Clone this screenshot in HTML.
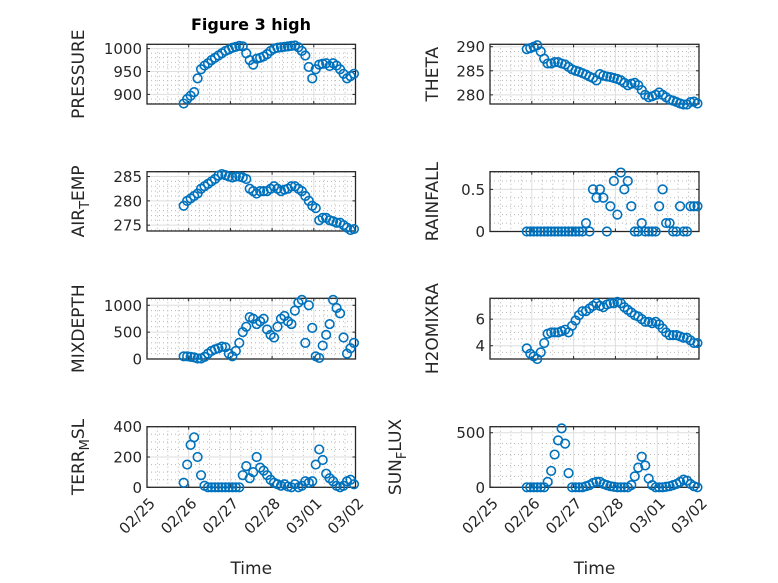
<!DOCTYPE html>
<html><head><meta charset="utf-8"><style>
html,body{margin:0;padding:0;background:#fff;}
svg{display:block;font-family:"DejaVu Sans","Liberation Sans",sans-serif;}
</style></head><body>
<svg id="fig" width="778" height="583" viewBox="0 0 778 583" xmlns="http://www.w3.org/2000/svg">
<rect width="778" height="583" fill="#fff"/>
<text x="251" y="30" text-anchor="middle" font-weight="bold" font-size="16" fill="#000">Figure 3 high</text>
</svg>
<script>
const hours = [0,2,4,6,8,10,12,14,16,18,20,22,24,26,28,30,32,34,36,38,40,42,44,46,48,50,52,54,56,58,60,62,64,66,68,70,72,74,76,78,80,82,84,86,88,90,92,94,96,98];
const startDay = 0.88;
const xTickLabels = ["02/25","02/26","02/27","02/28","03/01","03/02"];
const pressure = [880,890,897,905,935,955,963,968,975,980,985,990,995,998,1002,1004,1006,1005,990,975,965,978,980,983,988,995,1000,1002,1003,1004,1005,1006,1007,1003,995,985,960,935,955,965,967,968,962,968,963,955,945,935,940,945];
const theta = [289.5,289.7,290,290.3,289,287.5,286.5,286.5,286.8,286.8,286.5,286.3,285.8,285.3,285,284.8,284.5,284.2,283.8,283.5,283,284.3,284,283.8,283.7,283.5,283.3,283,282.5,282,282.3,282.5,282,281,280,279.5,279.7,280,280.5,280,279.5,279,278.8,278.5,278.2,278,278,278.5,278.6,278.2];
const airTemp = [279,280,280.5,281,281.5,282.5,283,283.5,284,284.5,285.2,285.5,285.3,285,284.8,285,285,284.8,284.5,282.5,282,281.5,282,282,282,282.5,283,282.5,282,282.3,282.5,283,283,282.5,282,281,280,279,278.5,276,276.5,276.5,276,275.8,275.5,275.5,275,274.5,274,274.2];
const rainfall = [0,0,0,0,0,0,0,0,0,0,0,0,0,0,0,0,0,0.1,0,0.5,0.4,0.5,0.4,0,0.3,0.6,0.2,0.7,0.5,0.6,0.3,0,0,0.1,0,0,0,0,0.3,0.5,0.1,0.1,0,0,0.3,0,0,0.3,0.3,0.3];
const mixDepth = [50,50,40,30,10,10,40,100,150,180,200,230,220,100,50,150,300,500,600,780,750,650,700,750,550,450,400,600,750,800,700,650,900,1050,1100,300,1000,580,50,20,250,450,650,1100,950,850,400,100,200,300];
const h2oMix = [3.8,3.4,3.2,3.0,3.5,4.2,4.9,5.0,5.0,5.0,5.1,5.2,5.0,5.5,5.9,6.3,6.6,6.6,6.8,7.0,7.2,7.0,6.9,7.1,7.2,7.2,7.3,7.2,6.9,6.7,6.5,6.3,6.2,6.0,5.8,5.8,5.7,5.8,5.6,5.3,5.0,4.8,4.8,4.8,4.7,4.6,4.6,4.4,4.2,4.2];
const terrMsl = [30,150,280,330,200,80,10,0,0,0,0,0,0,0,0,0,0,80,140,60,100,200,130,110,80,50,30,20,10,20,5,0,20,0,10,40,30,40,150,250,180,90,60,40,10,0,10,40,50,20];
const sunFlux = [0,0,0,0,0,0,50,150,300,430,540,400,130,0,0,0,0,10,20,40,50,50,30,20,10,5,0,0,0,0,20,100,180,280,200,80,20,0,0,0,5,10,20,30,50,70,60,30,10,0];
const pressureTicks = [900,950,1000], thetaTicks = [280,285,290], airTicks = [275,280,285], rainTicks = [0,0.5], mixTicks = [0,500,1000], h2oTicks = [4,6], terrTicks = [0,200,400], sunTicks = [0,500];

const NS = "http://www.w3.org/2000/svg";
const svg = document.getElementById('fig');
function mk(tag, attrs, parent){ const e=document.createElementNS(NS,tag); for(const k in attrs) e.setAttribute(k,attrs[k]); (parent||svg).appendChild(e); return e; }

const panels = [
 {name:'pressure', x0:147,x1:355.5,y0:44.3,y1:104, ymin:879,ymax:1009.5, ticks:pressureTicks, minor:10, data:pressure, label:['PRESSURE'], lx:84, xt:false},
 {name:'theta', x0:490,x1:699,y0:44.3,y1:104, ymin:278.1,ymax:290.5, ticks:thetaTicks, minor:1, data:theta, label:['THETA'], lx:438, xt:false},
 {name:'air-temp', x0:147,x1:355.5,y0:171.7,y1:231, ymin:273.8,ymax:286, ticks:airTicks, minor:1, data:airTemp, label:['AIR','T','EMP'], lx:84, xt:false},
 {name:'rainfall', x0:490,x1:699,y0:171.7,y1:231.5, ymin:0,ymax:0.71, ticks:rainTicks, minor:0.1, data:rainfall, label:['RAINFALL'], lx:438, xt:false},
 {name:'mixdepth', x0:147,x1:355.5,y0:298.3,y1:359, ymin:0,ymax:1130, ticks:mixTicks, minor:100, data:mixDepth, label:['MIXDEPTH'], lx:84, xt:false},
 {name:'h2omixra', x0:490,x1:699,y0:298.3,y1:359, ymin:3.0,ymax:7.57, ticks:h2oTicks, minor:0.5, data:h2oMix, label:['H2OMIXRA'], lx:438, xt:false},
 {name:'terr-msl', x0:147,x1:355.5,y0:426.7,y1:487.3, ymin:0,ymax:400, ticks:terrTicks, minor:50, data:terrMsl, label:['TERR','M','SL'], lx:84, xt:true},
 {name:'sun-flux', x0:490,x1:699,y0:426.7,y1:487.3, ymin:0,ymax:555, ticks:sunTicks, minor:100, data:sunFlux, label:['SUN','F','LUX'], lx:401, xt:true},
];

panels.forEach(p=>{
  const g = mk('g',{});
  
  
  const xs = d => p.x0 + d*(p.x1-p.x0)/5;
  const ys = v => p.y1 - (v-p.ymin)*(p.y1-p.y0)/(p.ymax-p.ymin);
  for(let q=1;q<20;q++){ if(q%4===0) continue; const x=xs(q/4);
    const l=mk('line',{x1:x,x2:x,y1:p.y0,y2:p.y1,stroke:'#b8b8b8','stroke-width':1,'stroke-dasharray':'1 3'},g);
      }
  const mstart = Math.ceil(p.ymin/p.minor);
  for(let k=mstart; k*p.minor<=p.ymax+1e-9; k++){ const v=k*p.minor; if(p.ticks.some(t=>Math.abs(t-v)<1e-9)) continue; const y=ys(v);
    const l=mk('line',{x1:p.x0,x2:p.x1,y1:y,y2:y,stroke:'#b8b8b8','stroke-width':1,'stroke-dasharray':'1 3'},g);
      }
  for(let d=1; d<5; d++){ const x=xs(d);
    const l=mk('line',{x1:x,x2:x,y1:p.y0,y2:p.y1,stroke:'#dedede','stroke-width':1},g);
      }
  p.ticks.forEach(t=>{ const y=ys(t);
    const l=mk('line',{x1:p.x0,x2:p.x1,y1:y,y2:y,stroke:'#dedede','stroke-width':1},g);
     
    const tk=mk('line',{x1:p.x0,x2:p.x0+3,y1:y,y2:y,stroke:'#262626','stroke-width':1},g);
     
    const tk2=mk('line',{x1:p.x1,x2:p.x1-3,y1:y,y2:y,stroke:'#262626','stroke-width':1},g);
     
    const tx=mk('text',{x:p.x0-5,y:y+5.5,'text-anchor':'end','font-size':15,fill:'#262626'},g);
     
    tx.textContent=String(t);
  });
  for(let d=0; d<=5; d++){ const x=xs(d);
    const tk=mk('line',{x1:x,x2:x,y1:p.y1,y2:p.y1-3,stroke:'#262626','stroke-width':1},g);
     
    const tk2=mk('line',{x1:x,x2:x,y1:p.y0,y2:p.y0+3,stroke:'#262626','stroke-width':1},g);
     
    if(p.xt){ const ax=x+9, ay=p.y1+17;
      const tx=mk('text',{x:ax,y:ay,'text-anchor':'end','font-size':15,fill:'#262626',transform:`rotate(-45 ${ax} ${ay})`},g);
       
      tx.textContent=xTickLabels[d]; }
  }
  const box=mk('rect',{x:p.x0,y:p.y0,width:p.x1-p.x0,height:p.y1-p.y0,fill:'none',stroke:'#262626','stroke-width':1.3},g);
   
  p.data.forEach((v,i)=>{ const d = startDay + hours[i]/24;
    const c=mk('circle',{cx:xs(d),cy:ys(v),r:4.3,fill:'none',stroke:'#0072BD','stroke-width':1.6},g);
      });
  const cy=(p.y0+p.y1)/2;
  const lb=mk('text',{x:p.lx,y:cy,'text-anchor':'middle','font-size':17,fill:'#262626',transform:`rotate(-90 ${p.lx} ${cy})`},g);
   
  if(p.label.length===1){ lb.textContent=p.label[0]; }
  else { const a=mk('tspan',{},lb); a.textContent=p.label[0];
    const b=mk('tspan',{dy:5,'font-size':13},lb); b.textContent=p.label[1];
    const c=mk('tspan',{dy:-5},lb); c.textContent=p.label[2]; }
  if(p.xt){ const xl=mk('text',{x:(p.x0+p.x1)/2,y:574,'text-anchor':'middle','font-size':17,fill:'#262626'},g);
      xl.textContent='Time'; }
});
</script>
</body></html>
